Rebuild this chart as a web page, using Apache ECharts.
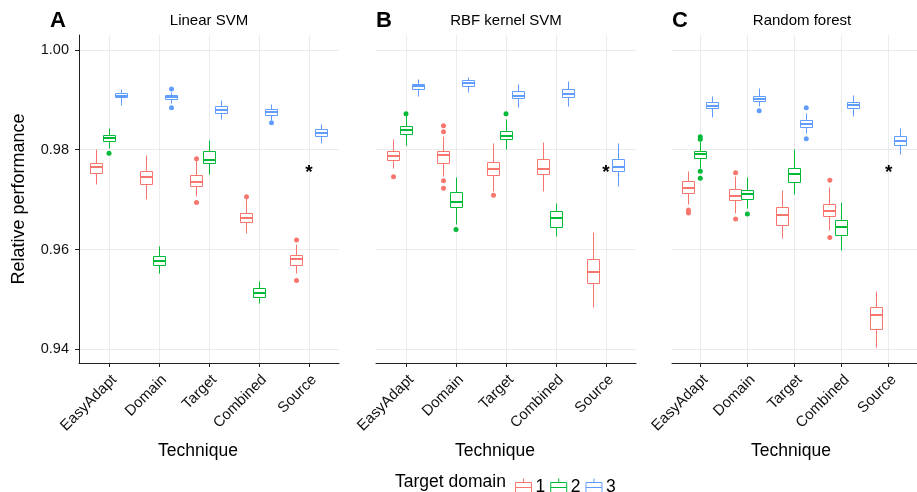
<!DOCTYPE html>
<html>
<head>
<meta charset="utf-8">
<script src="https://cdn.jsdelivr.net/npm/echarts@6/dist/echarts.min.js"></script>
<style>
html, body { margin: 0; background: #fff; }
#chart { width: 917px; height: 492px; }
</style>
</head>
<body>
<div id="chart"></div>
<script>
const categories = ["EasyAdapt", "Domain", "Target", "Combined", "Source"]
const panelTitles = ["Linear SVM", "RBF kernel SVM", "Random forest"]
const panelTags = ["A", "B", "C"]
const domains = ["1", "2", "3"]
const colors = ["#F8766D", "#00BA38", "#619CFF"]
const yTicks = [0.94, 0.96, 0.98, 1.00]

// box stats per category: [lower whisker, q1, median, q3, upper whisker], null = not run
const linear1 = [[0.9731, 0.9752, 0.9765, 0.9773, 0.9800], [0.9701, 0.9731, 0.9746, 0.9756, 0.9789], [0.9706, 0.9726, 0.9736, 0.9748, 0.9779], [0.9633, 0.9654, 0.9664, 0.9673, 0.9703], [0.9551, 0.9568, 0.9580, 0.9587, 0.9610]]
const linear2 = [[0.9802, 0.9817, 0.9823, 0.9828, 0.9843], [0.9551, 0.9567, 0.9576, 0.9586, 0.9606], [0.9751, 0.9773, 0.9780, 0.9796, 0.9818], [0.9492, 0.9504, 0.9512, 0.9522, 0.9536], null]
const linear3 = [[0.9889, 0.9904, 0.9908, 0.9912, 0.9921], [0.9893, 0.9900, 0.9905, 0.9909, 0.9914], [0.9861, 0.9873, 0.9879, 0.9886, 0.9898], [0.9858, 0.9869, 0.9875, 0.9880, 0.9891], [0.9812, 0.9826, 0.9834, 0.9840, 0.9850]]
const rbf1 = [[0.9763, 0.9779, 0.9788, 0.9797, 0.9820], [0.9746, 0.9773, 0.9789, 0.9796, 0.9826], [0.9716, 0.9749, 0.9762, 0.9775, 0.9812], [0.9716, 0.9751, 0.9761, 0.9780, 0.9814], [0.9484, 0.9532, 0.9554, 0.9580, 0.9635]]
const rbf2 = [[0.9808, 0.9831, 0.9840, 0.9846, 0.9870], [0.9651, 0.9685, 0.9696, 0.9714, 0.9745], [0.9800, 0.9820, 0.9828, 0.9836, 0.9860], [0.9626, 0.9645, 0.9664, 0.9677, 0.9693], null]
const rbf3 = [[0.9906, 0.9921, 0.9927, 0.9931, 0.9940], [0.9914, 0.9926, 0.9933, 0.9938, 0.9945], [0.9885, 0.9902, 0.9908, 0.9916, 0.9930], [0.9886, 0.9905, 0.9911, 0.9921, 0.9936], [0.9726, 0.9757, 0.9766, 0.9781, 0.9813]]
const forest1 = [[0.9691, 0.9712, 0.9724, 0.9736, 0.9757], [0.9673, 0.9699, 0.9708, 0.9721, 0.9746], [0.9622, 0.9649, 0.9670, 0.9685, 0.9719], [0.9639, 0.9666, 0.9678, 0.9691, 0.9724], [0.9404, 0.9440, 0.9469, 0.9484, 0.9515]]
const forest2 = [[0.9763, 0.9782, 0.9791, 0.9796, 0.9816], [0.9683, 0.9701, 0.9711, 0.9719, 0.9745], [0.9711, 0.9735, 0.9751, 0.9763, 0.9800], [0.9599, 0.9628, 0.9645, 0.9659, 0.9694], null]
const forest3 = [[0.9864, 0.9882, 0.9888, 0.9895, 0.9906], [0.9886, 0.9896, 0.9902, 0.9906, 0.9922], [0.9833, 0.9845, 0.9852, 0.9859, 0.9873], [0.9866, 0.9882, 0.9889, 0.9895, 0.9908], [0.9790, 0.9808, 0.9818, 0.9826, 0.9843]]

// outliers: [category index, value]
const linear1Out = [[2, 0.9782], [2, 0.9694], [3, 0.9706], [4, 0.9619], [4, 0.9538]]
const linear2Out = [[0, 0.9793]]
const linear3Out = [[1, 0.9922], [1, 0.9884], [3, 0.9854]]
const rbf1Out = [[0, 0.9746], [1, 0.9848], [1, 0.9836], [1, 0.9738], [1, 0.9723], [2, 0.9709]]
const rbf2Out = [[0, 0.9872], [1, 0.9640], [2, 0.9872]]
const rbf3Out = []
const forest1Out = [[0, 0.9679], [0, 0.9673], [1, 0.9754], [1, 0.9661], [3, 0.9739], [3, 0.9624]]
const forest2Out = [[0, 0.9826], [0, 0.9821], [0, 0.9757], [0, 0.9743], [1, 0.9671]]
const forest3Out = [[1, 0.9878], [2, 0.9884], [2, 0.9822]]

// "*" marks the missing Source / domain 2 runs
const starCategory = 4
const starValue = 0.9761

const panelBoxes = [[linear1, linear2, linear3], [rbf1, rbf2, rbf3], [forest1, forest2, forest3]]
const panelOuts = [[linear1Out, linear2Out, linear3Out], [rbf1Out, rbf2Out, rbf3Out], [forest1Out, forest2Out, forest3Out]]

const font = "'Liberation Sans', Arial, sans-serif"
const gridLefts = [79, 376, 672]
const boxW = 0.25
const dodge = [-0.25, 0, 0.25]

// snap to pixel centre so 1px strokes stay sharp
const px = v => Math.round(v - 0.5) + 0.5

function boxRenderer(color) {
	return function (params, api) {
		const cx = api.value(0)
		const x = px(api.coord([cx, 0.97])[0])
		const lo = px(api.coord([cx, api.value(1)])[1])
		const q1 = px(api.coord([cx, api.value(2)])[1])
		const md = Math.round(api.coord([cx, api.value(3)])[1])
		const q3 = px(api.coord([cx, api.value(4)])[1])
		const hi = px(api.coord([cx, api.value(5)])[1])
		const hw = Math.round(api.size([boxW, 0])[0] / 2)
		const st = { stroke: color, fill: "#fff", lineWidth: 1 }
		return {
			type: "group",
			children: [
				{ type: "line", shape: { x1: x, y1: lo, x2: x, y2: q1 }, style: st },
				{ type: "line", shape: { x1: x, y1: q3, x2: x, y2: hi }, style: st },
				{ type: "rect", shape: { x: x - hw, y: q3, width: hw * 2, height: q1 - q3 }, style: st },
				{ type: "line", shape: { x1: x - hw, y1: md, x2: x + hw, y2: md }, style: { stroke: color, lineWidth: 2 } }
			]
		}
	}
}

const grids = [], xAxes = [], yAxes = [], series = [], texts = []
const tagLefts = [50, 376, 672]
panelTags.forEach((tag, p) => {
	grids.push({ left: gridLefts[p], top: 35, width: 260, height: 328 })
	xAxes.push({
		type: "value", gridIndex: p, min: 0.4, max: 5.6,
		axisLine: { show: true, lineStyle: { color: "#222", width: 1 } },
		axisTick: { show: true, length: 4, customValues: [1, 2, 3, 4, 5], lineStyle: { color: "#222" } },
		axisLabel: {
			customValues: [1, 2, 3, 4, 5], rotate: 45, margin: 9, verticalAlign: "top",
			fontFamily: font, fontSize: 15, color: "#111",
			formatter: v => categories[Math.round(v) - 1]
		},
		splitLine: { show: true, lineStyle: { color: "#ebebeb", width: 1 } }
	})
	yAxes.push({
		type: "value", gridIndex: p, min: 0.93725, max: 1.003,
		axisLine: { show: p === 0, lineStyle: { color: "#222", width: 1 } },
		axisTick: { show: p === 0, length: 4, customValues: yTicks, lineStyle: { color: "#222" } },
		axisLabel: {
			show: p === 0, customValues: yTicks, margin: 10,
			fontFamily: font, fontSize: 14.5, color: "#111",
			formatter: v => v.toFixed(2)
		},
		splitLine: { show: true, lineStyle: { color: "#ebebeb", width: 1 } }
	})
	domains.forEach((dom, d) => {
		const boxes = []
		panelBoxes[p][d].forEach((b, i) => {
			if (b) boxes.push([i + 1 + dodge[d], ...b])
		})
		series.push({
			type: "custom", name: dom, xAxisIndex: p, yAxisIndex: p,
			renderItem: boxRenderer(colors[d]),
			encode: { x: 0, y: [1, 2, 3, 4, 5] },
			itemStyle: { color: colors[d] },
			data: boxes, z: 2
		})
		series.push({
			type: "scatter", name: dom, xAxisIndex: p, yAxisIndex: p,
			symbolSize: 5, itemStyle: { color: colors[d], opacity: 1 },
			data: panelOuts[p][d].map(o => [o[0] + 1 + dodge[d], o[1]]), z: 3
		})
	})
	series.push({
		type: "custom", xAxisIndex: p, yAxisIndex: p,
		renderItem: (params, api) => {
			const pt = api.coord([api.value(0), api.value(1)])
			return { type: "text", x: pt[0], y: pt[1] + 4, style: { text: "*", font: "bold 19px " + font, fill: "#000", align: "center", verticalAlign: "middle" } }
		},
		data: [[starCategory + 1, starValue]], z: 4
	})
	const cx = gridLefts[p] + 130
	texts.push({ type: "text", left: tagLefts[p], top: 10, style: { text: tag, font: "bold 22px " + font, fill: "#000" } })
	texts.push({ type: "text", x: cx, y: 21, style: { text: panelTitles[p], font: "15px " + font, fill: "#000", align: "center", verticalAlign: "middle" } })
	texts.push({ type: "text", x: cx - 11, y: 451, style: { text: "Technique", font: "17.5px " + font, fill: "#000", align: "center", verticalAlign: "middle" } })
})

texts.push({ type: "text", x: 19, y: 199, rotation: Math.PI / 2, style: { text: "Relative performance", font: "18px " + font, fill: "#000", align: "center", verticalAlign: "middle" } })
texts.push({ type: "text", x: 395, y: 482, style: { text: "Target domain", font: "17.5px " + font, fill: "#000", align: "left", verticalAlign: "middle" } })

const chart = echarts.init(document.getElementById("chart"))
chart.setOption({
	animation: false,
	grid: grids,
	xAxis: xAxes,
	yAxis: yAxes,
	legend: {
		left: 510, top: 473, itemWidth: 16, itemHeight: 18, itemGap: 5,
		icon: "path://M0,4L16,4L16,14L0,14Z M0,9L16,9 M8,0L8,4 M8,14L8,18",
		textStyle: { fontFamily: font, fontSize: 17.5, color: "#000", padding: [0, 0, 0, -1] },
		data: domains.map((dom, d) => ({ name: dom, itemStyle: { color: "#fff", borderColor: colors[d], borderWidth: 1 } }))
	},
	graphic: texts,
	series: series
})
</script>
</body>
</html>
